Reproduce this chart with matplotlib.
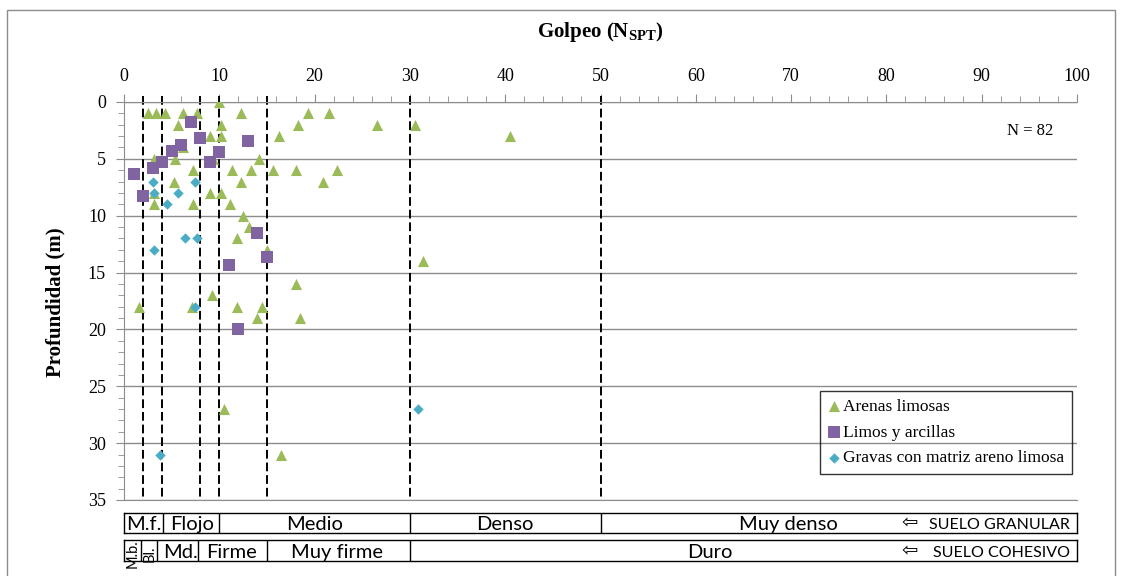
import matplotlib
matplotlib.use("Agg")
import matplotlib.pyplot as plt
from matplotlib.patches import Rectangle

plt.rcParams['mathtext.fontset'] = 'custom'
plt.rcParams['mathtext.rm'] = 'Liberation Serif'
plt.rcParams['mathtext.bf'] = 'Liberation Serif:bold'

# Data (x = N_SPT, y = depth in m)
arenas_x = [10, 2.5, 3.4, 4.3, 6.2, 7.7, 12.3, 19.3, 21.5, 5.7, 10.2, 18.3, 26.6, 30.5,
            9.0, 10.2, 16.3, 40.5, 6.2, 3.2, 5.3, 9.3, 14.2, 7.2, 11.3, 13.3, 15.6, 18.0, 22.3,
            5.2, 12.3, 20.9, 3.2, 9.0, 10.2, 3.2, 7.2, 11.1, 12.5, 13.1, 11.9, 15.0, 31.4,
            18.0, 9.2, 1.6, 7.1, 11.9, 14.5, 14.0, 18.5, 10.5, 16.5]
arenas_y = [0, 1, 1, 1, 1, 1, 1, 1, 1, 2, 2, 2, 2, 2,
            3, 3, 3, 3, 4, 5, 5, 5, 5, 6, 6, 6, 6, 6, 6,
            7, 7, 7, 8, 8, 8, 9, 9, 9, 10, 11, 12, 13, 14,
            16, 17, 18, 18, 18, 18, 19, 19, 27, 31]

limos_x = [7, 8, 6, 5, 10, 4, 9, 3, 1, 2, 13, 14, 15, 11, 12]
limos_y = [1.8, 3.2, 3.8, 4.3, 4.4, 5.3, 5.3, 5.8, 6.3, 8.3, 3.4, 11.5, 13.6, 14.3, 20.0]

gravas_x = [3.0, 7.4, 3.2, 5.7, 4.5, 6.4, 7.7, 3.2, 7.4, 30.8, 3.8]
gravas_y = [7, 7, 8, 8, 9, 12, 12, 13, 18, 27, 31]

# Consistency limits (N_SPT)
limits = [2, 4, 8, 10, 15, 30, 50]

granular_edges = [0, 4.1, 10, 30, 50, 100]
granular_labels = ['M.f.', 'Flojo', 'Medio', 'Denso', 'Muy denso']
granular_pos = [2.05, 7.1, 20, 40, 69.7]

cohesive_edges = [0, 1.8, 3.5, 7.8, 15, 30, 100]
cohesive_labels = ['M.b.', 'Bl.', 'Md.', 'Firme', 'Muy firme', 'Duro']
cohesive_pos = [0.95, 2.65, 5.9, 11.3, 22.4, 61.5]

W, H = 1123, 576
fig = plt.figure(figsize=(W / 100, H / 100), dpi=100)

# outer chart frame
fig.patches.append(Rectangle((7 / W, -0.1), (1115 - 7) / W, 1.1 - 10 / H,
                             transform=fig.transFigure, fill=False,
                             edgecolor='#8c8c8c', lw=1))

left, right = 124 / W, 1077 / W
ax = fig.add_axes([left, 1 - 500 / H, right - left, (500 - 102) / H])

green = '#9BBB59'
purple = '#8064A2'
blue = '#4BACC6'

for xv in limits:
    ax.plot([xv, xv], [-0.5, 35], color='black', lw=1.4, ls=(0, (4.5, 2)), zorder=2,
            clip_on=False)

ax.scatter(arenas_x, arenas_y, marker='^', s=8 ** 2, color=green, lw=0,
           zorder=3, label='Arenas limosas')
ax.scatter(limos_x, limos_y, marker='s', s=8 ** 2, color=purple, lw=0,
           zorder=4, label='Limos y arcillas')
ax.scatter(gravas_x, gravas_y, marker='D', s=5.3 ** 2, color=blue, lw=0,
           zorder=5, label='Gravas con matriz areno limosa')

ax.set_xlim(0, 100)
ax.set_ylim(35, 0)
ax.xaxis.tick_top()
ax.set_xticks(range(0, 101, 10))
ax.set_xticks(range(0, 101, 2), minor=True)
ax.set_yticks(range(0, 36, 5))
ax.set_yticks(range(0, 36, 1), minor=True)
ax.grid(axis='y', which='major', color='#8c8c8c', lw=1, zorder=1)
ax.set_axisbelow(True)

for s in ['top', 'left', 'bottom']:
    ax.spines[s].set_color('#8c8c8c')
ax.spines['right'].set_visible(False)

ax.tick_params(axis='both', which='both', color='#8c8c8c', direction='out',
               labelcolor='black', labelsize=13,
               labelfontfamily='Liberation Serif')
ax.tick_params(axis='x', which='major', length=6, pad=6)
ax.tick_params(axis='x', which='minor', length=4)
ax.tick_params(axis='y', which='major', length=6, pad=7)
ax.tick_params(axis='y', which='minor', length=4)

fig.text((124 + 1077) / 2 / W, 1 - 32 / H, r'Golpeo (N$_{\mathbf{SPT}}$)',
         family='Liberation Serif', weight='bold', fontsize=15,
         ha='center', va='center')
fig.text(55 / W, 1 - 302 / H, 'Profundidad (m)', family='Liberation Serif',
         weight='bold', fontsize=15, rotation=90, ha='center', va='center')
fig.text(1030 / W, 1 - 131 / H, 'N = 82', family='Liberation Serif',
         fontsize=12, ha='center', va='center')

leg = ax.legend(loc='upper right', bbox_to_anchor=(1072 / W, 1 - 391 / H),
                bbox_transform=fig.transFigure, frameon=True, fancybox=False,
                prop={'family': 'Liberation Serif', 'size': 12.5},
                handlelength=0.7, handletextpad=0.15, labelspacing=0.55,
                borderpad=0.45, borderaxespad=0, scatterpoints=1)
leg.get_frame().set_edgecolor('black')
leg.get_frame().set_facecolor('none')
leg.get_frame().set_linewidth(1)


# classification tables under the chart
def table_row(y_top, y_bot, edges, labels, pos, note):
    a = fig.add_axes([left, 1 - y_bot / H, right - left, (y_bot - y_top) / H])
    a.set_xlim(0, 100)
    a.set_ylim(0, 1)
    a.set_xticks([])
    a.set_yticks([])
    for s in a.spines.values():
        s.set_color('black')
        s.set_linewidth(1)
    for e in edges[1:-1]:
        a.axvline(e, color='black', lw=1)
    for lab, p in zip(labels, pos):
        if lab in ('M.b.', 'Bl.'):
            a.text(p, 0.35, lab, family='Lato', fontsize=10.5, rotation=90,
                   ha='center', va='center', clip_on=False)
        else:
            a.text(p, 0.42, lab, family='Lato', fontsize=14.5,
                   ha='center', va='center')
    a.text(82.4, 0.5, '\u21e6', family='DejaVu Sans', fontsize=14,
           ha='center', va='center')
    a.text(99.3, 0.38, note, family='Lato', fontsize=11.5,
           ha='right', va='center')


table_row(513, 533, granular_edges, granular_labels, granular_pos,
          'SUELO GRANULAR')
table_row(540, 561, cohesive_edges, cohesive_labels, cohesive_pos,
          'SUELO COHESIVO')

fig.savefig('out.png', dpi=100)
